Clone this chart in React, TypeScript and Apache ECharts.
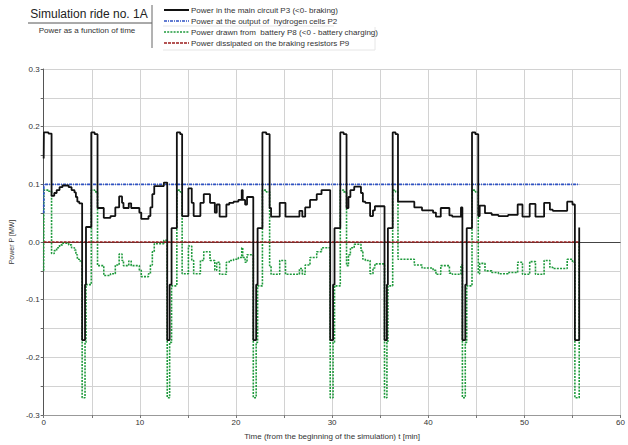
import React, { useEffect, useRef } from "react";
import * as echarts from "echarts";

// Time samples [min] (step changes of the simulated powers)
const timeMin = [
  0, 0.02, 0.5, 0.82, 1.1, 1.35, 1.65, 1.95, 2.6, 2.9, 3.2, 3.35, 3.5, 3.7, 4.0, 4.3, 4.4, 4.95, 5.3, 5.6,
  6.25, 6.95, 7.45, 7.85, 8.15, 8.3, 8.85, 9.1, 9.95, 10.15, 10.9, 11.1, 11.3, 11.5, 12.5, 12.85, 13.1, 13.3, 13.85, 14.2,
  14.4, 15.05, 15.4, 15.6, 16.3, 16.65, 17.3, 17.8, 18.0, 18.3, 19.0, 19.3, 19.75, 20.25, 20.6, 20.7, 20.95, 21.15, 21.8, 22.1,
  22.25, 22.75, 23.15, 23.5, 23.65, 24.55, 25.15, 26.6, 26.9, 27.2, 27.7, 28.4, 28.9, 29.8, 30.1, 30.25, 30.85, 31.2, 31.5, 31.7,
  31.9, 32.3, 33.0, 33.2, 33.45, 33.95, 34.25, 34.45, 35.45, 35.7, 35.8, 36.3, 36.6, 36.85, 38.55, 39.35, 40.5, 40.8, 41.3, 42.2,
  42.5, 43.4, 43.55, 43.85, 44.0, 44.55, 44.9, 45.2, 45.35, 45.9, 46.6, 47.3, 48.3, 49.3, 49.8, 50.55, 51.15, 52.05, 52.65, 52.95,
  54.45, 55.0, 55.25, 55.7,
];

// P3 - power in the main circuit [MW]
const p3Main = [
  0.145, 0.19, 0.188, 0.08, 0.085, 0.09, 0.095, 0.098, 0.095, 0.09, 0.086, 0.078, 0.07, 0.067, -0.17, -0.074, 0.026, 0.19, 0.187, 0.059,
  0.042, 0.045, 0.06, 0.079, 0.068, 0.059, 0.067, 0.059, 0.051, 0.04, 0.045, 0.06, 0.083, 0.097, 0.103, -0.17, -0.074, 0.024, 0.19, 0.187,
  0.045, 0.093, 0.068, 0.045, 0.068, 0.083, 0.068, 0.051, 0.065, 0.044, 0.065, 0.068, 0.07, 0.073, 0.09, 0.073, 0.065, 0.078, -0.17, -0.074,
  0.024, 0.19, 0.187, 0.059, 0.044, 0.068, 0.044, 0.054, 0.044, 0.06, 0.073, 0.083, 0.09, -0.17, -0.074, 0.024, 0.19, 0.187, 0.059, 0.078,
  0.09, 0.096, 0.085, 0.07, 0.068, 0.045, 0.055, 0.062, -0.17, -0.074, 0.024, 0.19, 0.187, 0.07, 0.06, 0.055, 0.051, 0.044, 0.059, 0.046,
  0.044, 0.06, -0.17, -0.074, 0.024, 0.19, 0.187, 0.045, 0.063, 0.05, 0.047, 0.045, 0.047, 0.065, 0.044, 0.066, 0.044, 0.068, 0.056, 0.054,
  0.07, 0.065, -0.17, 0.025,
];

// P8 - power drawn from battery [MW]
const p8Battery = [
  -0.05, 0.09, 0.088, -0.02, -0.015, -0.01, -0.005, -0.002, -0.005, -0.01, -0.014, -0.022, -0.03, -0.033, -0.27, -0.174, -0.074, 0.09, 0.087, -0.041,
  -0.058, -0.055, -0.04, -0.021, -0.032, -0.041, -0.033, -0.041, -0.049, -0.06, -0.055, -0.04, -0.017, -0.003, 0.003, -0.27, -0.174, -0.076, 0.09, 0.087,
  -0.055, -0.007, -0.032, -0.055, -0.032, -0.017, -0.032, -0.049, -0.035, -0.056, -0.035, -0.032, -0.03, -0.027, -0.01, -0.027, -0.035, -0.022, -0.27, -0.174,
  -0.076, 0.09, 0.087, -0.041, -0.056, -0.032, -0.056, -0.046, -0.056, -0.04, -0.027, -0.017, -0.01, -0.27, -0.174, -0.076, 0.09, 0.087, -0.041, -0.022,
  -0.01, -0.004, -0.015, -0.03, -0.032, -0.055, -0.045, -0.038, -0.27, -0.174, -0.076, 0.09, 0.087, -0.03, -0.04, -0.045, -0.049, -0.056, -0.041, -0.054,
  -0.056, -0.04, -0.27, -0.174, -0.076, 0.09, 0.087, -0.055, -0.037, -0.05, -0.053, -0.055, -0.053, -0.035, -0.056, -0.034, -0.056, -0.032, -0.044, -0.046,
  -0.03, -0.035, -0.27, 0.0,
];

// P2 - power at the output of hydrogen cells [MW]
const p2Time = [0, 0.02, 55.7];
const p2Cells = [0.05, 0.1, 0.1];

// P9 - power dissipated on the braking resistors [MW]
const p9Time = [0, 55.7];
const p9Resistors = [0, 0];

const legendLabels = [
  "Power in the main circuit P3 (<0- braking)",
  "Power at the output of  hydrogen cells P2",
  "Power drawn from  battery P8 (<0 - battery charging)",
  "Power dissipated on the braking resistors P9",
];
const seriesColors = ["#111111", "#2f52c4", "#1f9a3c", "#9c1c1c"];
const seriesDash: (number[] | "solid")[] = ["solid", [3, 1, 1, 1], [2, 1.2], [3, 1]];

const title = "Simulation ride no. 1A";
const subtitle = "Power as a function of time";
const xName = "Time (from the beginning of the simulation) t [min]";
const yName = "Power P [MW]";

const FONT = "'Liberation Sans', Arial, sans-serif";

function zip(t: number[], v: number[]) {
  const n = Math.min(t.length, v.length);
  const out: [number, number][] = [];
  for (let i = 0; i < n; i++) out.push([t[i], v[i]]);
  return out;
}

export default function App() {
  const ref = useRef<HTMLDivElement>(null);
  useEffect(() => {
    if (!ref.current) return;
    const chart = echarts.init(ref.current, null, { renderer: "svg" });

    const legendRows = [10, 21, 32, 43];
    const legendGraphics: any[] = [];
    legendLabels.forEach((lab, i) => {
      legendGraphics.push({
        type: "line",
        shape: { x1: 164, y1: legendRows[i], x2: 189, y2: legendRows[i] },
        style: {
          stroke: seriesColors[i],
          lineWidth: i === 0 ? 2 : 1.6,
          lineDash: seriesDash[i] === "solid" ? null : seriesDash[i],
        },
      });
      legendGraphics.push({
        type: "text",
        x: 191,
        y: legendRows[i],
        style: {
          text: lab,
          fontSize: 8,
          fontFamily: FONT,
          fill: "#333",
          verticalAlign: "middle",
          align: "left",
        },
      });
    });

    chart.setOption({
      animation: false,
      backgroundColor: "#ffffff",
      textStyle: { fontFamily: FONT },
      grid: { left: 37, right: 4, top: 69, bottom: 29, containLabel: false },
      graphic: [
        {
          type: "text",
          x: 89,
          y: 14,
          style: { text: title, fontSize: 12, fontFamily: FONT, fill: "#222", align: "center", verticalAlign: "middle" },
        },
        { type: "line", shape: { x1: 28, y1: 23, x2: 152, y2: 23 }, style: { stroke: "#555", lineWidth: 1 } },
        { type: "line", shape: { x1: 152, y1: 5, x2: 152, y2: 48 }, style: { stroke: "#666", lineWidth: 1 } },
        {
          type: "text",
          x: 87,
          y: 30,
          style: { text: subtitle, fontSize: 8, fontFamily: FONT, fill: "#333", align: "center", verticalAlign: "middle" },
        },
        { type: "line", shape: { x1: 163, y1: 26, x2: 334, y2: 26 }, style: { stroke: "#e6e6e6", lineWidth: 1 } },
        { type: "line", shape: { x1: 163, y1: 50, x2: 375, y2: 50 }, style: { stroke: "#e6e6e6", lineWidth: 1 } },
        { type: "line", shape: { x1: 375, y1: 27, x2: 375, y2: 50 }, style: { stroke: "#e6e6e6", lineWidth: 1 } },
        ...legendGraphics,
      ],
      xAxis: {
        type: "value",
        min: 0,
        max: 60,
        interval: 5,
        name: xName,
        nameLocation: "middle",
        nameGap: 17,
        nameTextStyle: { fontSize: 8, color: "#333", fontFamily: FONT },
        axisLine: { show: true, onZero: false, lineStyle: { color: "#999", width: 1 } },
        axisTick: { show: true, length: 3, lineStyle: { color: "#777" } },
        axisLabel: {
          fontSize: 8,
          color: "#333",
          margin: 3,
          fontFamily: FONT,
          formatter: (v: number) => (Math.round(v) % 10 === 0 ? String(Math.round(v)) : ""),
        },
        splitLine: { show: true, lineStyle: { color: "#d2d2d2", width: 1 } },
      },
      yAxis: {
        type: "value",
        min: -0.3,
        max: 0.3,
        interval: 0.05,
        name: yName,
        nameLocation: "middle",
        nameGap: 23,
        nameTextStyle: { fontSize: 7, color: "#333", fontFamily: FONT },
        axisLine: { show: true, onZero: false, lineStyle: { color: "#555", width: 1 } },
        axisTick: { show: true, length: 3, lineStyle: { color: "#666" } },
        axisLabel: {
          fontSize: 8,
          color: "#333",
          margin: 4,
          fontFamily: FONT,
          formatter: (v: number) => {
            const k = Math.round(v * 100);
            return k % 10 === 0 ? (k / 100).toFixed(1) : "";
          },
        },
        splitLine: { show: true, lineStyle: { color: "#d2d2d2", width: 1 } },
      },
      series: [
        {
          name: "zero",
          type: "line",
          data: [],
          silent: true,
          z: 1,
          markLine: {
            silent: true,
            z: 1,
            symbol: ["none", "none"],
            label: { show: false },
            lineStyle: { color: "#444", width: 1, type: "solid" },
            data: [{ yAxis: 0 }],
          },
        },
        {
          name: legendLabels[2],
          type: "line",
          step: "end",
          z: 3,
          data: zip(timeMin, p8Battery),
          showSymbol: false,
          lineStyle: { color: seriesColors[2], width: 1.6, type: seriesDash[2] },
          itemStyle: { color: seriesColors[2] },
        },
        {
          name: legendLabels[3],
          type: "line",
          z: 4,
          data: zip(p9Time, p9Resistors),
          showSymbol: false,
          lineStyle: { color: seriesColors[3], width: 1.6, type: seriesDash[3] },
          itemStyle: { color: seriesColors[3] },
        },
        {
          name: legendLabels[1],
          type: "line",
          z: 4,
          data: zip(p2Time, p2Cells),
          showSymbol: false,
          lineStyle: { color: seriesColors[1], width: 1.6, type: seriesDash[1] },
          itemStyle: { color: seriesColors[1] },
        },
        {
          name: legendLabels[0],
          type: "line",
          step: "end",
          z: 5,
          data: zip(timeMin, p3Main),
          showSymbol: false,
          lineStyle: { color: seriesColors[0], width: 1.8, type: "solid" },
          itemStyle: { color: seriesColors[0] },
        },
      ],
    });
    return () => chart.dispose();
  }, []);
  return (
    <div
      ref={ref}
      style={{ position: "absolute", left: 0, top: 0, width: 628, height: 445 }}
    />
  );
}
